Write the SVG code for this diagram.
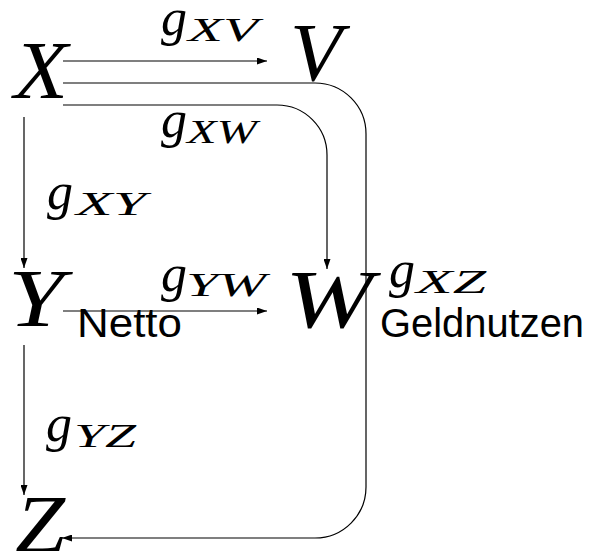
<svg xmlns="http://www.w3.org/2000/svg" width="594" height="551" viewBox="0 0 594 551">
<style>
.v{font-family:"Liberation Serif",serif;font-style:italic;font-size:83px;fill:#000}
.g{font-family:"Liberation Serif",serif;font-style:italic;font-size:52px;fill:#000}
.s{font-family:"Liberation Serif",serif;font-style:italic;font-size:34px;fill:#000}
.t{font-family:"Liberation Sans",sans-serif;font-size:41px;fill:#000}
.c{fill:none;stroke:#000;stroke-width:1.2}
</style>
<defs>
<marker id="ah" markerUnits="userSpaceOnUse" markerWidth="10" markerHeight="7" refX="10" refY="3.5" orient="auto">
<path d="M0,0 L10,3.5 L0,7 z" fill="#000"/>
</marker>
</defs>
<rect width="594" height="551" fill="#fff"/>
<g id="connectors">
<path class="c" d="M63,61 H267" marker-end="url(#ah)"/>
<path class="c" d="M63,83 H315 A51,51 0 0 1 366,134 V487 A51,51 0 0 1 315,538 H62" marker-end="url(#ah)"/>
<path class="c" d="M63,105 H277 A50,50 0 0 1 327,155 V269" marker-end="url(#ah)"/>
<path class="c" d="M24,117 V268" marker-end="url(#ah)"/>
<path class="c" d="M63,311 H267" marker-end="url(#ah)"/>
<path class="c" d="M24,345 V495" marker-end="url(#ah)"/>
</g>
<g id="node-X"><text class="v" x="14" y="98" textLength="54" lengthAdjust="spacingAndGlyphs">X</text></g>
<g id="node-V"><text class="v" x="290" y="80" textLength="52" lengthAdjust="spacingAndGlyphs">V</text></g>
<g id="node-Y"><text class="v" x="8" y="326" textLength="56" lengthAdjust="spacingAndGlyphs">Y</text></g>
<g id="node-W"><text class="v" x="285" y="327" textLength="88" lengthAdjust="spacingAndGlyphs">W</text></g>
<g id="node-Z"><text class="v" x="15" y="552" textLength="50" lengthAdjust="spacingAndGlyphs">Z</text></g>
<g id="labels">
<text class="g" x="161" y="35">g</text><text class="s" x="188" y="41" textLength="70" lengthAdjust="spacingAndGlyphs">XV</text>
<text class="g" x="161" y="137">g</text><text class="s" x="187" y="143" textLength="70" lengthAdjust="spacingAndGlyphs">XW</text>
<text class="g" x="47" y="209">g</text><text class="s" x="76" y="215" textLength="70" lengthAdjust="spacingAndGlyphs">XY</text>
<text class="g" x="161" y="291">g</text><text class="s" x="186" y="296" textLength="80" lengthAdjust="spacingAndGlyphs">YW</text>
<text class="g" x="389" y="287">g</text><text class="s" x="416" y="293" textLength="70" lengthAdjust="spacingAndGlyphs">XZ</text>
<text class="g" x="46" y="441">g</text><text class="s" x="74" y="447" textLength="62" lengthAdjust="spacingAndGlyphs">YZ</text>
<text class="t" x="77" y="337" textLength="105" lengthAdjust="spacingAndGlyphs">Netto</text>
<text class="t" x="380" y="337" textLength="204" lengthAdjust="spacingAndGlyphs">Geldnutzen</text>
</g>
</svg>
